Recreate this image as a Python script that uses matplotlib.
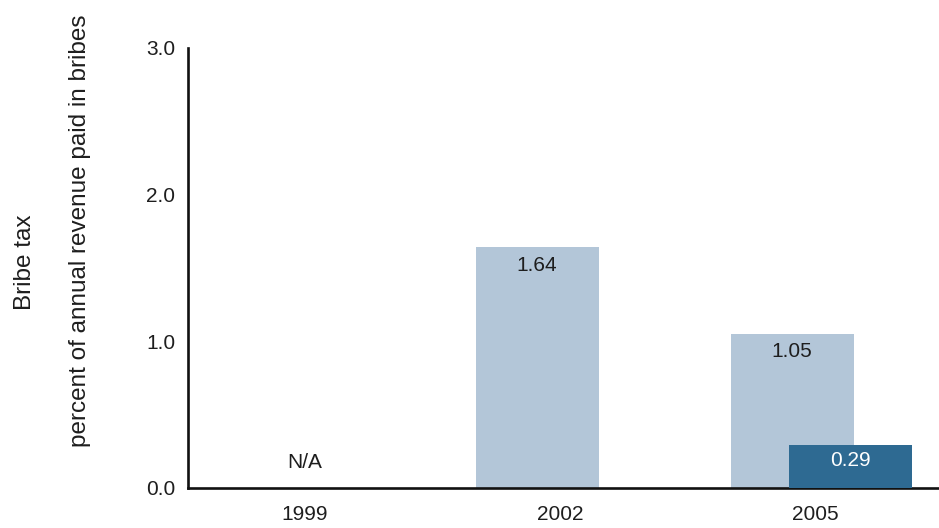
import numpy as np
import matplotlib
matplotlib.use("Agg")
import matplotlib.pyplot as plt

# Daten
years = ["1999", "2002", "2005"]
bribe_all = [np.nan, 1.64, 1.05]
bribe_second = [np.nan, np.nan, 0.29]
missing_label = "N/A"

light = "#b3c6d8"
dark = "#2e6a92"
txt = "#1e1e1e"

plt.rcParams["font.family"] = ["Liberation Sans", "DejaVu Sans"]

fig = plt.figure(figsize=(9.39, 5.28), dpi=100)
ax = fig.add_axes([0.2002, 0.0758, 0.7998, 0.8333])

x = np.arange(len(years))
w = 0.482
off_light = -0.09
off_dark = 0.14

ax.bar(x + off_light, bribe_all, width=w, color=light, zorder=2)
ax.bar(x + off_dark, bribe_second, width=w, color=dark, zorder=3)

# Beschriftungen
for xi, v in zip(x, bribe_all):
    if np.isnan(v):
        ax.text(xi, 0.177, missing_label, ha="center", va="center", fontsize=15, color=txt)
    else:
        ax.text(xi + off_light, v - 0.12, f"{v:.2f}", ha="center", va="center", fontsize=15,
                color=txt, zorder=4)
for xi, v in zip(x, bribe_second):
    if not np.isnan(v):
        ax.text(xi + off_dark, v / 2 + 0.04, f"{v:.2f}", ha="center", va="center", fontsize=15,
                color="white", zorder=4)

ax.set_xlim(-0.459, 2.486)
ax.set_ylim(0, 3.0)
ax.set_yticks([0, 1, 2, 3])
ax.set_yticklabels([f"{t:.1f}" for t in [0, 1, 2, 3]])
ax.set_xticks(x)
ax.set_xticklabels(years)
ax.tick_params(axis="both", length=0, labelsize=15, colors=txt)
ax.tick_params(axis="y", pad=9)
ax.tick_params(axis="x", pad=12)

for s in ["top", "right"]:
    ax.spines[s].set_visible(False)
for s in ["left", "bottom"]:
    ax.spines[s].set_linewidth(1.9)
    ax.spines[s].set_color("#111111")

fig.text(0.0266, 0.504, "Bribe tax", rotation=90, ha="center", va="center", fontsize=17.5, color=txt)
fig.text(0.085, 0.5625, "percent of annual revenue paid in bribes", rotation=90, ha="center",
         va="center", fontsize=17.5, color=txt)

fig.savefig("out.png", dpi=100)
